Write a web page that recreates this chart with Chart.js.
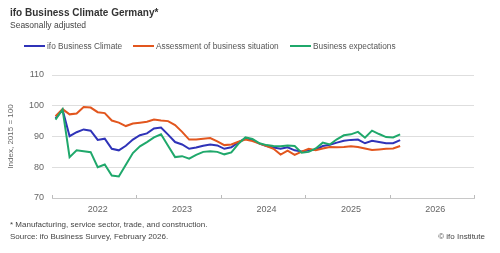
<!DOCTYPE html>
<html>
<head>
<meta charset="utf-8">
<script src="https://cdn.jsdelivr.net/npm/chart.js@4/dist/chart.umd.min.js"></script>
<style>
  html, body { margin: 0; padding: 0; background: #fff; }
  body { width: 500px; height: 253px; position: relative; overflow: hidden;
         font-family: "Liberation Sans", Arial, sans-serif; color: #333; }
  #chart { position: absolute; left: 0; top: 0; }
  .txt { position: absolute; white-space: nowrap; line-height: 1; }
  #title { left: 10px; top: 8px; font-size: 10px; font-weight: bold; color: #333; }
  #subtitle { left: 10px; top: 21px; font-size: 8.5px; color: #444; }
  #legend { left: 24px; top: 42px; font-size: 8.3px; color: #555; }
  #legend span.item { position: absolute; top: 0; }
  #legend i { display: inline-block; width: 21px; height: 2px; vertical-align: middle;
              margin-right: 2px; position: relative; top: -1px; }
  #foot1 { left: 10px; top: 221px; font-size: 8px; color: #444; }
  #foot2 { left: 10px; top: 233px; font-size: 8px; color: #444; }
  #copy { right: 15px; top: 233px; font-size: 8px; color: #444; }
</style>
</head>
<body>
<canvas id="chart" width="500" height="253"></canvas>
<div class="txt" id="title">ifo Business Climate Germany*</div>
<div class="txt" id="subtitle">Seasonally adjusted</div>
<div class="txt" id="legend"></div>
<div class="txt" id="foot1">* Manufacturing, service sector, trade, and construction.</div>
<div class="txt" id="foot2">Source: ifo Business Survey, February 2026.</div>
<div class="txt" id="copy">© ifo Institute</div>
<script>
// monthly values, Jan 2022 - Feb 2026
const climate = [
  95.9, 98.7, 90.1, 91.4, 92.3, 91.9, 88.9, 89.3, 86.0, 85.5, 87.0, 89.0,
  90.4, 91.0, 92.6, 92.9, 90.6, 88.2, 87.4, 86.0, 86.4, 87.0, 87.4, 87.1,
  86.0, 86.5, 88.1, 89.4, 88.9, 87.7, 86.9, 86.4, 86.0, 86.5, 85.5, 85.1,
  85.5, 85.7, 86.9, 87.3, 88.0, 88.6, 88.9, 89.0, 87.8, 88.6, 88.2, 87.8,
  87.8, 88.8
];
const situation = [
  96.6, 98.9, 97.2, 97.5, 99.6, 99.4, 97.9, 97.6, 95.2, 94.5, 93.4, 94.2,
  94.5, 94.8, 95.5, 95.2, 95.0, 93.7, 91.5, 89.0, 89.0, 89.3, 89.5, 88.4,
  87.2, 87.4, 88.3, 89.0, 88.5, 87.7, 86.9, 86.0, 84.1, 85.4, 84.0, 85.1,
  86.0, 85.5, 86.1, 86.6, 86.5, 86.6, 86.8, 86.6, 86.1, 85.6, 85.8, 86.0,
  86.1, 86.9
];
const expectations = [
  95.5, 98.8, 83.3, 85.5, 85.2, 84.9, 80.0, 80.9, 77.3, 77.0, 80.8, 84.6,
  86.8, 88.2, 89.7, 90.7, 87.0, 83.3, 83.6, 82.8, 84.0, 85.0, 85.2, 85.0,
  84.2, 84.8, 87.6, 89.7, 89.2, 87.8, 87.2, 86.9, 86.8, 87.1, 86.9, 84.7,
  85.0, 86.1, 88.0, 87.4, 89.1, 90.4, 90.7, 91.5, 89.6, 91.9, 90.8, 89.8,
  89.7, 90.7
];
const years = ["2022", "2023", "2024", "2025", "2026"];
const yTicks = [70, 80, 90, 100, 110];

const seriesNames = ["ifo Business Climate", "Assessment of business situation", "Business expectations"];
const seriesColors = ["#2f33b8", "#e2561e", "#1fa86b"];

// html legend
const legendPos = [0, 109, 266];
document.getElementById("legend").innerHTML = seriesNames.map((n, i) =>
  `<span class="item" style="left:${legendPos[i]}px"><i style="background:${seriesColors[i]}"></i>${n}</span>`
).join("");

const toPoints = (arr) => arr.map((v, i) => ({ x: i + 0.5, y: v }));

// small upward tick marks at year boundaries
const yearTicks = {
  id: "yearTicks",
  afterDraw(chart) {
    const ctx = chart.ctx;
    const xs = chart.scales.x;
    const bottom = chart.chartArea.bottom;
    ctx.save();
    ctx.strokeStyle = "#bbb";
    ctx.lineWidth = 1;
    for (let m = 0; m <= years.length * 12; m += 12) {
      const px = Math.round(xs.getPixelForValue(m)) + 0.5;
      ctx.beginPath();
      ctx.moveTo(px, bottom);
      ctx.lineTo(px, bottom - 3);
      ctx.stroke();
    }
    ctx.restore();
  }
};

new Chart(document.getElementById("chart"), {
  type: "line",
  data: {
    datasets: [climate, situation, expectations].map((d, i) => ({
      label: seriesNames[i],
      data: toPoints(d),
      borderColor: seriesColors[i],
      backgroundColor: seriesColors[i],
      borderWidth: 2,
      pointRadius: 0,
      tension: 0
    })).reverse()
  },
  options: {
    responsive: false,
    animation: false,
    layout: { padding: { left: 6, right: 26, top: 75, bottom: 35 } },
    plugins: { legend: { display: false }, tooltip: { enabled: false } },
    scales: {
      x: {
        type: "linear",
        min: 0,
        max: years.length * 12,
        afterBuildTicks(scale) {
          // year labels sit at mid-July
          scale.ticks = years.map((y, i) => ({ value: i * 12 + 6.5 }));
        },
        afterFit(scale) { scale.height = 20; },
        ticks: {
          autoSkip: false,
          maxRotation: 0,
          padding: 6,
          color: "#666",
          font: { family: "'Liberation Sans', Arial, sans-serif", size: 9 },
          callback: (v) => years[Math.floor(v / 12)]
        },
        grid: { display: false, drawTicks: false },
        border: { display: true, color: "#c8c8c8", width: 1 }
      },
      y: {
        min: 70,
        max: 110,
        afterBuildTicks(scale) {
          scale.ticks = yTicks.map((v) => ({ value: v }));
        },
        afterFit(scale) { scale.width = 46; },
        ticks: {
          padding: 8,
          color: "#666",
          font: { family: "'Liberation Sans', Arial, sans-serif", size: 9 }
        },
        grid: { color: "#dedede", lineWidth: 1, drawTicks: false },
        border: { display: false },
        title: {
          display: true,
          text: "Index, 2015 = 100",
          color: "#666",
          padding: 0,
          font: { family: "'Liberation Sans', Arial, sans-serif", size: 8 }
        }
      }
    }
  },
  plugins: [yearTicks]
});
</script>
</body>
</html>
